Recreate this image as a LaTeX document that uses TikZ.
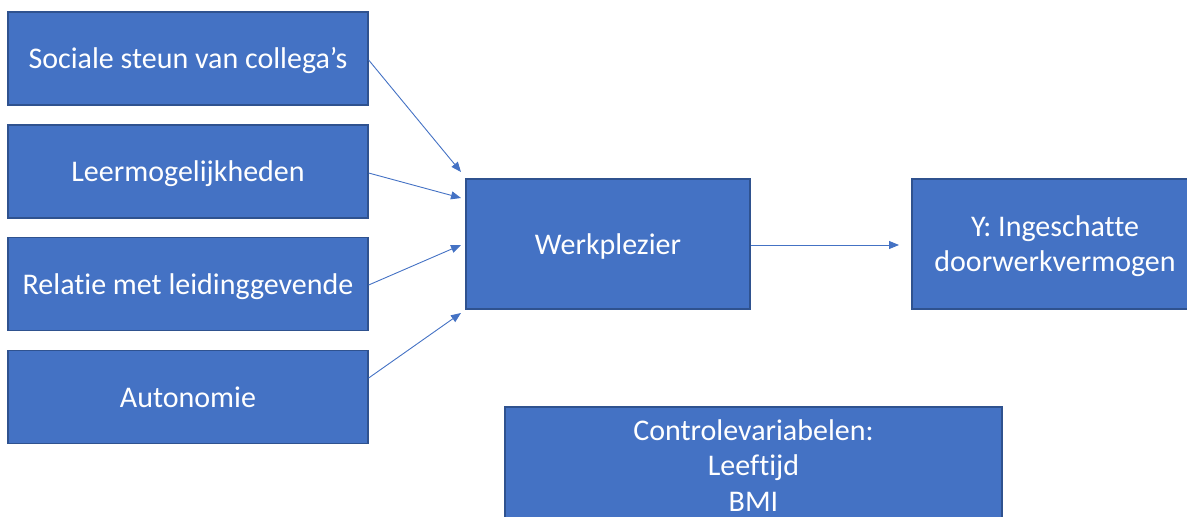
\documentclass[tikz,border=0pt]{standalone}
\usepackage{fontspec}
\setmainfont{Carlito}[Ligatures={NoCommon}]
\usetikzlibrary{arrows.meta}
\definecolor{boxfill}{HTML}{4472C4}
\definecolor{boxline}{HTML}{2F528F}
\begin{document}
\begin{tikzpicture}[x=1pt,y=-1pt,
  box/.style={draw=boxline,fill=boxfill,line width=1.3pt,text=white,align=center,inner sep=0pt,
    text height=24pt,text depth=4pt,
    font=\fontsize{30}{35.5}\selectfont\frenchspacing},
  conn/.style={draw=boxfill,line width=0.9pt,-{Triangle[length=10pt,width=8pt]}}]
\useasboundingbox (0,0) rectangle (1187,517);
\begin{scope}
\clip (0,0) rectangle (1187,517);
\node[box,minimum width=360pt,minimum height=93pt] (a) at (188,58.5) {Sociale steun van collega’s};
\node[box,minimum width=360pt,minimum height=93pt] (b) at (188,171.5) {Leermogelijkheden};
\node[box,minimum width=360pt,minimum height=93pt] (c) at (188,284) {Relatie met leidinggevende};
\node[box,minimum width=360pt,minimum height=93pt] (d) at (188,397) {Autonomie};
\node[box,minimum width=284pt,minimum height=130pt] (w) at (608,244) {Werkplezier};
\node[box,minimum width=286pt,minimum height=130pt,text height=59.5pt] (y) at (1055,244) {Y: Ingeschatte\\doorwerkvermogen};
\node[box,minimum width=497pt,minimum height=117pt,text height=95pt] (k) at (753.5,465.5) {Controlevariabelen:\\Leeftijd\\BMI};
\end{scope}
\coordinate (wa) at (461,172);
\coordinate (wb) at (461,198);
\coordinate (wc) at (461,245);
\coordinate (wd) at (461,313);
\coordinate (ya) at (899,245);
\draw[conn] (a.east |- 0,60) -- (wa);
\draw[conn] (b.east |- 0,173) -- (wb);
\draw[conn] (c.east |- 0,285) -- (wc);
\draw[conn] (d.east |- 0,378) -- (wd);
\draw[conn] (w.east |- 0,245) -- (ya);
\end{tikzpicture}
\end{document}
